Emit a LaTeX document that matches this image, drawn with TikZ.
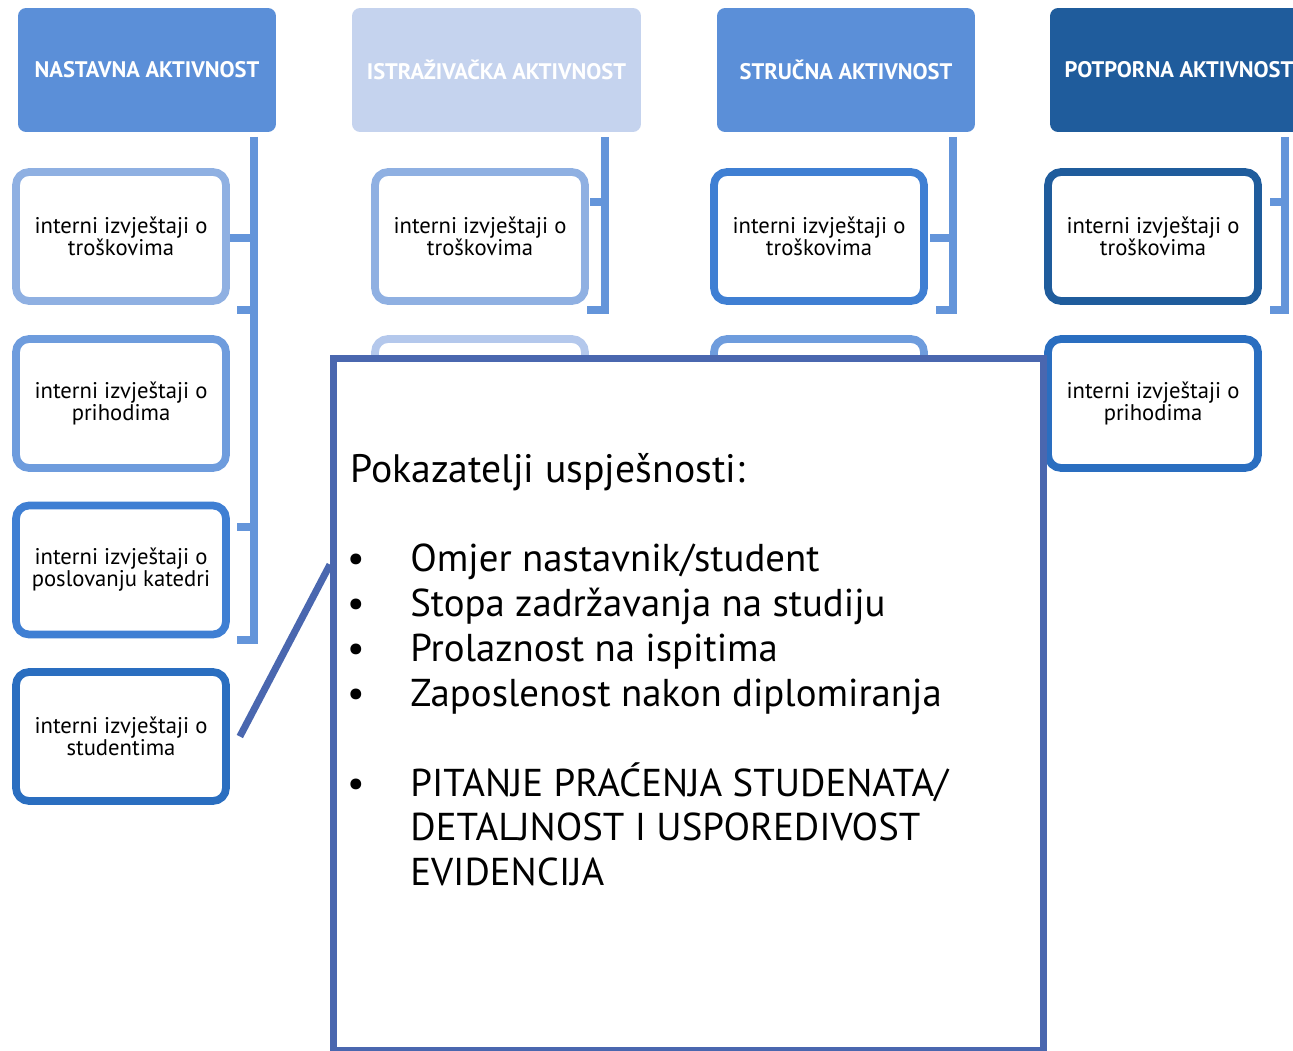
\documentclass[tikz,border=0pt]{standalone}
\usepackage{fontspec}
\setmainfont{PT Sans}
\usepackage{tikz}
\usetikzlibrary{positioning, calc}
\usepackage{xcolor}

\definecolor{headblue}{HTML}{5B8FD8}
\definecolor{headpale}{HTML}{C5D3EE}
\definecolor{headdark}{HTML}{1F5C9C}
\definecolor{linkblue}{HTML}{6495DA}
\definecolor{tintA}{HTML}{8FB0E2}
\definecolor{tintB}{HTML}{6E9CDD}
\definecolor{tintC}{HTML}{3F7FD3}
\definecolor{tintD}{HTML}{2A6EC0}
\definecolor{tintE}{HTML}{B4C8EC}
\definecolor{callblue}{HTML}{4A67AF}

\newcommand{\hdrfont}{\bfseries\fontsize{12.8}{14}\selectfont}
\newcommand{\repfont}{\fontsize{12.9}{12.6}\selectfont}
\newcommand{\callfont}{\fontsize{22.1}{26}\selectfont}
\newcommand{\titlefont}{\fontsize{22.6}{24}\selectfont}

\begin{document}
\begin{tikzpicture}[x=0.02cm, y=-0.02cm,
		hdr/.style={rectangle, rounded corners=0.16cm, minimum width=5.16cm, minimum height=2.48cm, text=white, font=\hdrfont, inner sep=0pt},
		rep/.style={rectangle, rounded corners=0.26cm, draw, line width=4.4pt, fill=white, minimum width=4.2cm, minimum height=2.58cm, align=center, font=\repfont, inner sep=0pt},
		bracket/.style={draw=linkblue, line width=4.4pt},
		callbox/.style={draw=callblue, line width=3.8pt, fill=white, inner sep=0pt},
		callline/.style={draw=callblue, line width=4pt},
		item/.style={anchor=base west, font=\callfont, inner sep=0pt}]
	
	% Frame of the slide
	\useasboundingbox (0,0) rectangle (1293,1050);
	\clip (0,0) rectangle (1293,1050);
	
	% Draw the brackets behind the report boxes
	\draw[bracket] (254,137) |- (237,640);
	\draw[bracket] (226,238) -- (254,238);
	\draw[bracket] (237,310) -- (254,310);
	\draw[bracket] (237,527) -- (254,527);
	\draw[bracket] (605,137) |- (587,310);
	\draw[bracket] (590,202) -- (605,202);
	\draw[bracket] (953,137) |- (936,310);
	\draw[bracket] (930,238) -- (953,238);
	\draw[bracket] (1285,137) |- (1270,310);
	\draw[bracket] (1270,202) -- (1285,202);
	
	% The four activity headers
	\node[hdr, fill=headblue] (h1) at (147,70) {NASTAVNA AKTIVNOST};
	\node[hdr, fill=headpale, minimum width=5.78cm] (h2) at (496.5,70) {ISTRAŽIVAČKA AKTIVNOST};
	\node[hdr, fill=headblue] (h3) at (846,70) {STRUČNA AKTIVNOST};
	\node[hdr, fill=headdark] (h4) at (1179,70) {POTPORNA AKTIVNOST};
	
	% Internal reports, column by column
	\node[rep, draw=tintA] (n11) at (121,236.5) {interni izvještaji o\\troškovima};
	\node[rep, draw=tintB] (n12) at (121,403.5) {interni izvještaji o\\prihodima};
	\node[rep, draw=tintC] (n13) at (121,570) {interni izvještaji o\\poslovanju katedri};
	\node[rep, draw=tintD] (n14) at (121,736.5) {interni izvještaji o\\studentima};
	
	\node[rep, draw=tintA] (n21) at (480,236.5) {interni izvještaji o\\troškovima};
	\node[rep, draw=tintE] (n22) at (480,403.5) {};
	
	\node[rep, draw=tintC] (n31) at (819,236.5) {interni izvještaji o\\troškovima};
	\node[rep, draw=tintB] (n32) at (819,403.5) {};
	
	\node[rep, draw=headdark] (n41) at (1153,236.5) {interni izvještaji o\\troškovima};
	\node[rep, draw=tintD] (n42) at (1153,403.5) {interni izvještaji o\\prihodima};
	
	% Callout with the indicators
	\node[callbox, minimum width=14.2cm, minimum height=13.84cm, anchor=north west] (callout) at (330,355) {};
	\coordinate (calltip) at ([xshift=0.2cm]n14.east);
	\draw[callline] ($(callout.north west)!0.3!(callout.south west)$) -- (calltip);
	
	\node[item, font=\titlefont] (title) at (350,482) {Pokazatelji uspješnosti:};
	\foreach \y/\t in {571.5/{Omjer nastavnik/student}, 616.5/{Stopa zadržavanja na studiju}, 661.5/{Prolaznost na ispitima}, 706.5/{Zaposlenost nakon diplomiranja}, 796.5/{PITANJE PRAĆENJA STUDENATA/}}
	{
		\node[anchor=base, font=\callfont, inner sep=0pt] at (356,\y) {•};
		\node[item] at (410,\y) {\t};
	}
	\node[item] (ev2) at (410,840.5) {DETALJNOST I USPOREDIVOST};
	\node[item] (ev3) at (410,885.5) {EVIDENCIJA};
	
\end{tikzpicture}
\end{document}
